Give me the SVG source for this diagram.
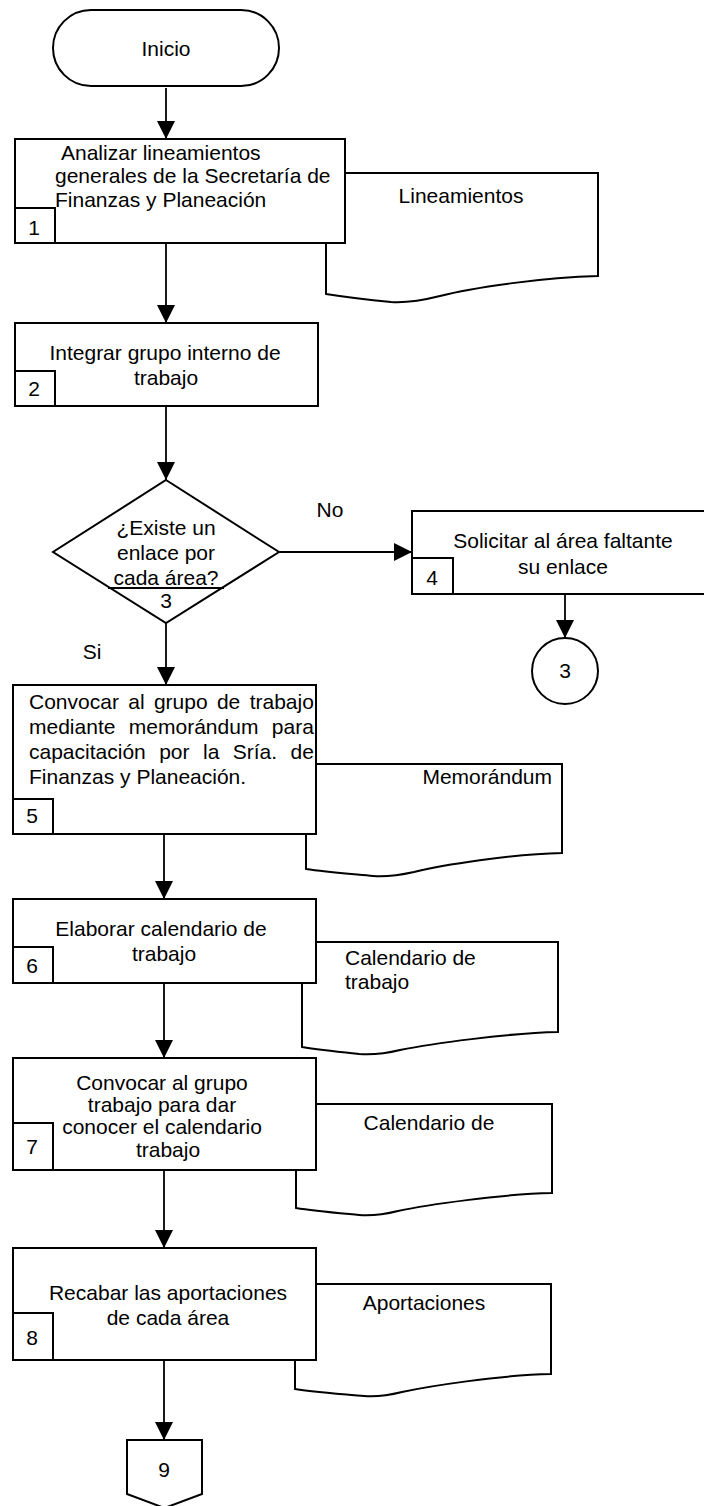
<svg xmlns="http://www.w3.org/2000/svg" width="704" height="1506" viewBox="0 0 704 1506">
  <defs>
    <style>
      .shape { fill: #ffffff; stroke: #000000; stroke-width: 2; }
      .doc { fill: #ffffff; stroke: #000000; stroke-width: 2; stroke-linejoin: miter; }
      .edge { fill: none; stroke: #000000; stroke-width: 1.8; }
      text { font-family: "Liberation Sans", Arial, sans-serif; font-size: 21px; fill: #000000; }
      .c { text-anchor: middle; }
      .e { text-anchor: end; }
    </style>
    <marker id="arrow" markerUnits="userSpaceOnUse" markerWidth="18" markerHeight="18" refX="18" refY="9" orient="auto">
      <path d="M0,0 L18,9 L0,18 Z" fill="#000000"/>
    </marker>
  </defs>
  <rect width="704" height="1506" fill="#ffffff"/>

  <!-- documents (drawn first, they sit behind the process boxes) -->
  <g id="doc-lineamientos">
    <path class="doc" d="M326,173 H598 V276 C545,277 470,288 440,296 C420,301 405,303 391,302 C370,300 345,297 326,294 Z"/>
    <text class="c" x="461" y="203">Lineamientos</text>
  </g>
  <g id="doc-memorandum">
    <path class="doc" d="M306,764 H562 V853 C512,854 442,865 414,872 C396,876 385,877 373,876 C352,874 325,872 306,869 Z"/>
    <text class="e" x="552" y="784">Memorándum</text>
  </g>
  <g id="doc-calendario-1">
    <path class="doc" d="M302,942 H558 V1032 C508,1033 430,1044 400,1050 C384,1054 372,1055 359,1054 C340,1052 320,1050 302,1047 Z"/>
    <text x="345" y="965">Calendario de</text>
    <text x="345" y="989">trabajo</text>
  </g>
  <g id="doc-calendario-2">
    <path class="doc" d="M296,1104 H552 V1193 C502,1194 426,1205 398,1211 C382,1215 371,1216 359,1215 C338,1213 314,1211 296,1208 Z"/>
    <text class="c" x="429" y="1130">Calendario de</text>
  </g>
  <g id="doc-aportaciones">
    <path class="doc" d="M295,1284 H551 V1374 C501,1375 430,1386 402,1392 C386,1396 375,1397 364,1396 C340,1394 314,1392 295,1389 Z"/>
    <text class="c" x="424" y="1310">Aportaciones</text>
  </g>

  <!-- connectors -->
  <g id="connectors">
    <line class="edge" x1="166" y1="88" x2="166" y2="139" marker-end="url(#arrow)"/>
    <line class="edge" x1="166" y1="243" x2="166" y2="323" marker-end="url(#arrow)"/>
    <line class="edge" x1="166" y1="406" x2="166" y2="480" marker-end="url(#arrow)"/>
    <line class="edge" x1="279" y1="552" x2="412" y2="552" marker-end="url(#arrow)"/>
    <line class="edge" x1="166" y1="613" x2="166" y2="685" marker-end="url(#arrow)"/>
    <line class="edge" x1="565" y1="594" x2="565" y2="638" marker-end="url(#arrow)"/>
    <line class="edge" x1="164" y1="834" x2="164" y2="899" marker-end="url(#arrow)"/>
    <line class="edge" x1="164" y1="983" x2="164" y2="1058" marker-end="url(#arrow)"/>
    <line class="edge" x1="164" y1="1170" x2="164" y2="1248" marker-end="url(#arrow)"/>
    <line class="edge" x1="164" y1="1360" x2="164" y2="1440" marker-end="url(#arrow)"/>
    <text class="c" x="330" y="517">No</text>
    <text class="c" x="92" y="659">Si</text>
  </g>

  <!-- start terminal -->
  <g id="inicio">
    <rect class="shape" x="53" y="10" width="226" height="76" rx="38" ry="38"/>
    <text class="c" x="166" y="56">Inicio</text>
  </g>

  <!-- step 1 -->
  <g id="paso-1">
    <rect class="shape" x="15" y="139" width="330" height="104"/>
    <rect class="shape" x="15" y="208" width="40" height="35"/>
    <text x="61" y="160">Analizar lineamientos</text>
    <text x="55" y="183">generales de la Secretaría de</text>
    <text x="55" y="207">Finanzas y Planeación</text>
    <text class="c" x="34" y="235">1</text>
  </g>

  <!-- step 2 -->
  <g id="paso-2">
    <rect class="shape" x="15" y="323" width="303" height="83"/>
    <rect class="shape" x="15" y="371" width="40" height="35"/>
    <text class="c" x="165" y="360">Integrar grupo interno de</text>
    <text class="c" x="166" y="385">trabajo</text>
    <text class="c" x="34" y="396">2</text>
  </g>

  <!-- step 3: decision -->
  <g id="paso-3">
    <polygon class="shape" points="166,480 279,552 166,623 53,552"/>
    <line class="edge" x1="108" y1="588" x2="224" y2="588"/>
    <text class="c" x="166" y="535">¿Existe un</text>
    <text class="c" x="166" y="560">enlace por</text>
    <text class="c" x="166" y="585">cada área?</text>
    <text class="c" x="166" y="608">3</text>
  </g>

  <!-- step 4 -->
  <g id="paso-4">
    <rect class="shape" x="412" y="511" width="303" height="83"/>
    <rect class="shape" x="412" y="558" width="41" height="36"/>
    <text class="c" x="563" y="548">Solicitar al área faltante</text>
    <text class="c" x="563" y="574">su enlace</text>
    <text class="c" x="432" y="585">4</text>
  </g>

  <!-- on-page connector back to step 3 -->
  <g id="conector-3">
    <circle class="shape" cx="565" cy="671" r="33"/>
    <text class="c" x="565" y="678">3</text>
  </g>

  <!-- step 5 -->
  <g id="paso-5">
    <rect class="shape" x="13" y="685" width="303" height="149"/>
    <rect class="shape" x="13" y="799" width="40" height="35"/>
    <text x="29" y="709" word-spacing="3.5">Convocar al grupo de trabajo</text>
    <text x="29" y="734" word-spacing="7.6">mediante memorándum para</text>
    <text x="29" y="759" word-spacing="7.6">capacitación por la Sría. de</text>
    <text x="29" y="784">Finanzas y Planeación.</text>
    <text class="c" x="32" y="823">5</text>
  </g>

  <!-- step 6 -->
  <g id="paso-6">
    <rect class="shape" x="13" y="899" width="303" height="84"/>
    <rect class="shape" x="13" y="947" width="40" height="36"/>
    <text class="c" x="161" y="936">Elaborar calendario de</text>
    <text class="c" x="164" y="961">trabajo</text>
    <text class="c" x="32" y="973">6</text>
  </g>

  <!-- step 7 -->
  <g id="paso-7">
    <rect class="shape" x="13" y="1058" width="303" height="112"/>
    <rect class="shape" x="13" y="1123" width="40" height="47"/>
    <text class="c" x="162" y="1090">Convocar al grupo</text>
    <text class="c" x="162" y="1112">trabajo para dar</text>
    <text class="c" x="162" y="1134">conocer el calendario</text>
    <text class="c" x="168" y="1157">trabajo</text>
    <text class="c" x="32" y="1154">7</text>
  </g>

  <!-- step 8 -->
  <g id="paso-8">
    <rect class="shape" x="13" y="1248" width="303" height="112"/>
    <rect class="shape" x="13" y="1313" width="40" height="47"/>
    <text class="c" x="168" y="1300">Recabar las aportaciones</text>
    <text class="c" x="168" y="1325">de cada área</text>
    <text class="c" x="32" y="1345">8</text>
  </g>

  <!-- off-page connector to step 9 -->
  <g id="conector-9">
    <path class="shape" d="M127,1440 H202 V1494 L164.5,1508 L127,1494 Z"/>
    <text class="c" x="164" y="1477">9</text>
  </g>
</svg>
